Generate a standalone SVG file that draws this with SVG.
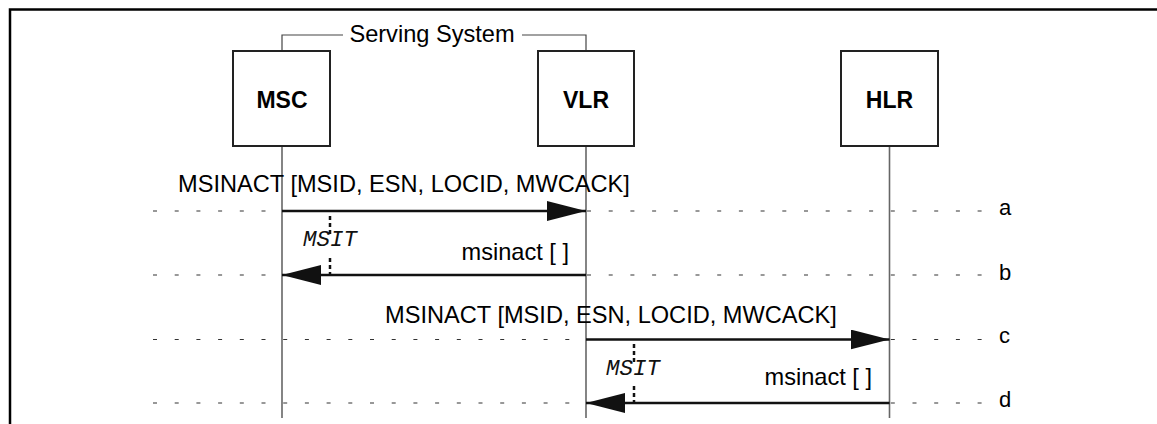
<svg xmlns="http://www.w3.org/2000/svg" width="1157" height="424" viewBox="0 0 1157 424">
<style>
.frame{fill:none;stroke:#000;stroke-width:2.5}
.box{fill:#fff;stroke:#222;stroke-width:2}
.life{stroke:#666;stroke-width:1.6;fill:none}
.brk{stroke:#444;stroke-width:1.2;fill:none}
.dash{stroke:#333;stroke-width:1.2;stroke-dasharray:4 17.7;fill:none}
.msg{stroke:#111;stroke-width:2.5;fill:none}
.tmr{stroke:#111;stroke-width:2.5;stroke-dasharray:4 3;fill:none}
.nt{font-family:"Liberation Sans",Arial,sans-serif;font-weight:bold;font-size:23px;fill:#000}
.t{font-family:"Liberation Sans",Arial,sans-serif;font-size:23.6px;fill:#000}
.lb{font-family:"Liberation Sans",Arial,sans-serif;font-size:22px;fill:#000}
.it{font-family:"Liberation Mono","Courier New",monospace;font-style:italic;font-size:22.5px;fill:#111}
</style>
<defs>
<marker id="ah" viewBox="0 0 39 20" refX="39" refY="10" markerWidth="39" markerHeight="20" markerUnits="userSpaceOnUse" orient="auto">
<path d="M0,0 L39,10 L0,20 Z" fill="#111"/>
</marker>
</defs>
<rect width="1157" height="424" fill="#fff"/>
<path class="frame" d="M10,430 V9.5 H1160"/>
<g id="lifelines">
<line class="life" x1="282" y1="146" x2="282" y2="418"/>
<line class="life" x1="586" y1="146" x2="586" y2="418"/>
<line class="life" x1="889.5" y1="146" x2="889.5" y2="418"/>
</g>
<g id="serving-system">
<path class="brk" d="M282,51 V35 H343"/>
<path class="brk" d="M522,35 H586 V51"/>
<text class="t" x="432" y="42" text-anchor="middle">Serving System</text>
</g>
<g id="MSC">
<rect class="box" x="233" y="51" width="97" height="95"/>
<text class="nt" x="282" y="108" text-anchor="middle">MSC</text>
</g>
<g id="VLR">
<rect class="box" x="538" y="51" width="96" height="95"/>
<text class="nt" x="586" y="108" text-anchor="middle">VLR</text>
</g>
<g id="HLR">
<rect class="box" x="841" y="51" width="97" height="95"/>
<text class="nt" x="889.5" y="108" text-anchor="middle">HLR</text>
</g>
<g id="connectors">
<line class="dash" x1="153" y1="211" x2="988" y2="211"/>
<line class="dash" x1="153" y1="275" x2="988" y2="275"/>
<line class="dash" x1="153" y1="339.5" x2="988" y2="339.5"/>
<line class="dash" x1="153" y1="403" x2="988" y2="403"/>
<line class="msg" x1="282" y1="211" x2="586" y2="211" marker-end="url(#ah)"/>
<line class="msg" x1="586" y1="275" x2="282" y2="275" marker-end="url(#ah)"/>
<line class="msg" x1="586" y1="339.5" x2="889.5" y2="339.5" marker-end="url(#ah)"/>
<line class="msg" x1="889.5" y1="403" x2="586" y2="403" marker-end="url(#ah)"/>
<line class="tmr" x1="330" y1="216" x2="330" y2="236"/>
<line class="tmr" x1="330" y1="258" x2="330" y2="275"/>
<line class="tmr" x1="634" y1="344" x2="634" y2="364"/>
<line class="tmr" x1="634" y1="386" x2="634" y2="403"/>
</g>
<g id="labels">
<text class="t" x="404" y="192" text-anchor="middle">MSINACT [MSID, ESN, LOCID, MWCACK]</text>
<text class="t" x="569" y="260" text-anchor="end">msinact [ ]</text>
<text class="it" x="303" y="246">MSIT</text>
<text class="t" x="611" y="323" text-anchor="middle">MSINACT [MSID, ESN, LOCID, MWCACK]</text>
<text class="t" x="872" y="385" text-anchor="end">msinact [ ]</text>
<text class="it" x="606" y="375">MSIT</text>
<text class="lb" x="999" y="215">a</text>
<text class="lb" x="999" y="280">b</text>
<text class="lb" x="999" y="343">c</text>
<text class="lb" x="999" y="407">d</text>
</g>
</svg>
